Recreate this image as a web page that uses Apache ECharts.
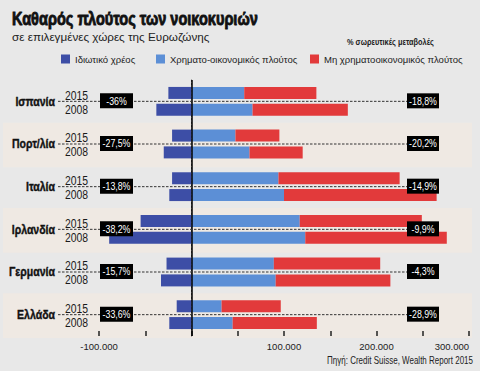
<!DOCTYPE html>
<html><head><meta charset="utf-8">
<script src="https://cdn.jsdelivr.net/npm/echarts@6/dist/echarts.min.js"></script>
<style>html,body{margin:0;padding:0;background:#e8e8e8}#c{width:480px;height:371px}</style>
</head><body><div id="c"></div>
<script>
// ---- data ----
const countries = ['Ισπανία', 'Πορτ/λία', 'Ιταλία', 'Ιρλανδία', 'Γερμανία', 'Ελλάδα'];
const years = ['2015', '2008'];
const seriesNames = ['Ιδιωτικό χρέος', 'Χρηματο-οικονομικός πλούτος', 'Μη χρηματοοικονομικός πλούτος'];
const debt2015 = [-25000, -21000, -21000, -55000, -27000, -16000];
const fin2015 = [57000, 47500, 94000, 117000, 89000, 32500];
const nonfin2015 = [78000, 47500, 131000, 132000, 115000, 64000];
const debt2008 = [-38000, -30000, -24000, -89000, -33000, -24000];
const fin2008 = [66000, 62700, 100000, 123000, 91000, 44500];
const nonfin2008 = [103000, 57500, 165000, 153000, 124000, 91000];
const debtChange = ['-36%', '-27,5%', '-13,8%', '-38,2%', '-15,7%', '-33,6%'];
const wealthChange = ['-18,8%', '-20,2%', '-14,9%', '-9,9%', '-4,3%', '-28,9%'];
const xTickValues = [-100000, 100000, 200000, 300000];
const xTickLabels = ['-100.000', '100.000', '200.000', '300.000'];
const titleText = 'Καθαρός πλούτος των νοικοκυριών';
const subtitleText = 'σε επιλεγμένες χώρες της Ευρωζώνης';
const noteText = '% σωρευτικές μεταβολές';
const sourceText = 'Πηγή: Credit Suisse, Wealth Report 2015';

const FONT = '"Liberation Sans", Arial, sans-serif';
const colors = ['#3d4ea6', '#5c8fd6', '#e23a3b'];
const legendLefts = [61, 156, 310];

// horizontal compression to imitate the condensed typeface of the original
const mctx = document.createElement('canvas').getContext('2d');
function fitScale(text, size, weight, target) {
  mctx.font = weight + ' ' + size + 'px ' + FONT;
  return target / mctx.measureText(text).width;
}
const CONDENSE = 0.8;

const chart = echarts.init(document.getElementById('c'), null, {renderer: 'svg'});

function barSeries(name, data, stack, color, extra) {
  return Object.assign({
    type: 'bar', name, data, stack, barWidth: 12, barGap: '40%',
    itemStyle: {color}, z: 2
  }, extra || {});
}

const rowData = countries.map((c, i) => [0, i]);

function condText(x, y, text, size, weight, align, fill, scale, strokeW) {
  const style = {text, x: 0, y: 0, fill: fill || '#1a1a1a', fontSize: size, fontWeight: weight || 'normal',
            fontFamily: FONT, align: align || 'left', verticalAlign: 'middle'};
  if (strokeW) { style.stroke = fill; style.lineWidth = strokeW; }
  return {type: 'text', x, y, scaleX: scale || CONDENSE, style};
}

const option = {
  backgroundColor: '#e8e8e8',
  animation: false,
  textStyle: {fontFamily: FONT},
  title: [
    {text: subtitleText, left: 12, top: 30, padding: 0,
     textStyle: {fontSize: 11.7, fontWeight: 'normal', color: '#222', fontFamily: FONT}}
  ],
  graphic: [
    Object.assign(condText(12, 19, titleText, 18.5, 'bold', 'left', '#111',
      fitScale(titleText, 18.5, 'bold', 246), 0.9), {silent: true}),
    Object.assign(condText(347, 42, noteText, 9, 'bold', 'left', '#222',
      fitScale(noteText, 9, 'bold', 87)), {silent: true}),
    Object.assign(condText(473, 361, sourceText, 10.5, 'normal', 'right', '#222',
      fitScale(sourceText, 10.5, 'normal', 146)), {silent: true})
  ],
  legend: seriesNames.map((n, k) => ({
    data: [n], left: legendLefts[k], top: 54, padding: 0, itemWidth: 9, itemHeight: 9,
    icon: 'rect', textStyle: {fontSize: 9.5, color: '#222', fontFamily: FONT}
  })),
  grid: {left: 99, right: 11, top: 80, bottom: 35, containLabel: false},
  xAxis: {
    type: 'value', min: -100000, max: 300000, interval: 50000,
    splitLine: {show: false}, axisLine: {show: false},
    axisTick: {show: true, inside: true, length: 5, lineStyle: {color: '#222', width: 1.5}},
    axisLabel: {
      margin: 5, fontSize: 9.5, color: '#222', fontFamily: FONT, alignMaxLabel: 'right',
      formatter: v => { const k = xTickValues.indexOf(v); return k >= 0 ? xTickLabels[k] : ''; }
    }
  },
  yAxis: {
    type: 'category', data: countries, inverse: true, offset: 41,
    axisLine: {show: true, lineStyle: {color: '#555', type: [1.5, 2], width: 1}},
    axisTick: {show: false},
    axisLabel: {show: false}
  },
  series: [
    {
      type: 'custom', name: 'bands', z: 0, silent: true, data: rowData,
      renderItem: (params, api) => {
        const i = api.value(1);
        if (i % 2 === 0) return null;
        const y = api.coord([0, i])[1];
        const h = api.size([0, 1])[1];
        return {type: 'rect', shape: {x: 3, y: y - h / 2, width: 469, height: h + 2},
                style: {fill: '#efe9e3'}};
      }
    },
    barSeries(seriesNames[0], debt2015, 's15', colors[0]),
    barSeries(seriesNames[1], fin2015, 's15', colors[1]),
    barSeries(seriesNames[2], nonfin2015, 's15', colors[2]),
    barSeries(seriesNames[0], debt2008, 's08', colors[0]),
    barSeries(seriesNames[1], fin2008, 's08', colors[1]),
    barSeries(seriesNames[2], nonfin2008, 's08', colors[2], {
      markLine: {silent: true, symbol: 'none', label: {show: false},
        lineStyle: {color: '#000', width: 1.5, type: 'solid'}, data: [{xAxis: 0}]}
    }),
    {
      type: 'custom', name: 'notes', z: 6, silent: true, data: rowData,
      renderItem: (params, api) => {
        const i = api.value(1);
        const y = api.coord([0, i])[1];
        const children = [
          {type: 'line', shape: {x1: 58, y1: y, x2: 407, y2: y},
           style: {stroke: '#333', lineWidth: 1, lineDash: [2.5, 1.5]}},
          condText(55, y, countries[i], 13.5, 'bold', 'right', '#111', 0.78, 0.4),
          condText(65, y - 6.5, years[0], 13, 'normal', 'left', '#1a1a1a'),
          condText(65, y + 7.5, years[1], 13, 'normal', 'left', '#1a1a1a'),
          {type: 'rect', shape: {x: 100, y: y - 8, width: 33, height: 15}, style: {fill: '#000'}},
          condText(116.5, y - 0.5, debtChange[i], 11, 'normal', 'center', '#fff'),
          {type: 'rect', shape: {x: 407, y: y - 8, width: 32, height: 15}, style: {fill: '#000'}},
          condText(423, y - 0.5, wealthChange[i], 11, 'normal', 'center', '#fff')
        ];
        return {type: 'group', children};
      }
    }
  ]
};
chart.setOption(option);
</script>
</body></html>
